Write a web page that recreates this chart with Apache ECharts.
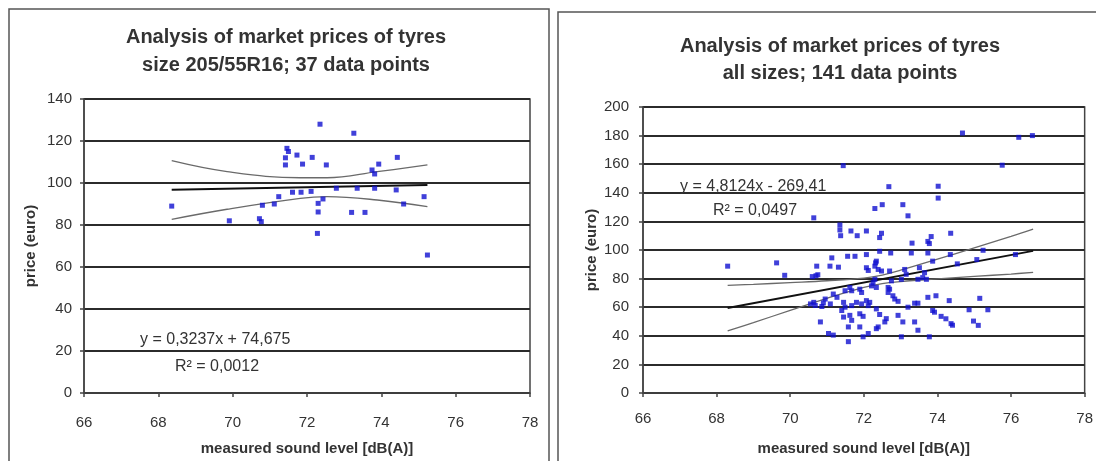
<!DOCTYPE html>
<html><head><meta charset="utf-8">
<script src="https://cdn.jsdelivr.net/npm/echarts/dist/echarts.min.js"></script>
<style>html,body{margin:0;padding:0;background:#fff}#c{width:1096px;height:461px}</style>
</head><body><div id="c"></div>
<script>
// ---------- data ----------
const titleLeft = "Analysis of market prices of tyres\nsize 205/55R16; 37 data points";
const titleRight = "Analysis of market prices of tyres\nall sizes; 141 data points";
const xName = "measured sound level [dB(A)]";
const yName = "price (euro)";
const eqLeft = ["y = 0,3237x + 74,675", "R\u00B2 = 0,0012"];
const eqRight = ["y = 4,8124x - 269,41", "R\u00B2 = 0,0497"];

// left chart: 205/55R16, 37 points [sound dB(A), price euro]
const sizePoints = [
 [68.36,89],[69.91,82],[70.77,81.6],[70.72,83],[70.8,89.4],[71.12,90],[71.24,93.5],
 [71.46,116.5],[71.5,115],[71.42,112],[71.42,108.6],[71.73,113.3],[71.88,109],[71.61,95.6],
 [71.84,95.6],[72.11,96],[72.14,112.2],[72.35,128],[72.3,90.3],[72.3,86.2],[72.28,76],
 [72.43,92.4],[72.52,108.6],[72.79,97.5],[73.26,123.7],[73.2,86],[73.35,97.5],[73.56,86],
 [73.75,106.2],[73.82,104.3],[73.93,109],[73.82,97.5],[74.43,112.2],[74.4,96.7],[74.6,90],
 [75.15,93.5],[75.24,65.7]
];
const sizeTrend = [[68.36,96.8],[75.24,99.0]];
const sizeUpper = [[68.36,110.6],[69.85,105.4],[71.82,102.5],[72.54,102.5],[73.89,105.4],[75.24,108.6]];
const sizeLower = [[68.36,82.7],[69.85,87.5],[71.82,92.7],[72.54,93.5],[73.89,91.9],[75.24,88.7]];

// right chart: all sizes, 141 points
const allPoints = [
 [74.68,181.8],[76.21,178.8],[76.58,180],[75.76,159.3],[71.44,159],[72.68,144.3],[74.02,144.6],
 [74.02,136.3],[72.5,131.7],[72.3,129],[73.06,131.7],[73.2,123.9],[70.64,122.5],
 [71.35,117.5],[71.35,114],[71.37,110],[71.65,113.3],[71.82,110],[72.07,113.3],[72.48,111.7],
 [72.43,108.7],[73.83,109.4],[73.74,106],[73.78,104.5],[74.36,111.7],[73.31,104.8],[73.29,97.9],
 [73.74,97.9],[73.87,92.2],[74.54,90.3],[72.43,99.1],[72.73,97.9],[71.56,95.6],[71.76,95.6],
 [72.07,96.8],[71.13,94.5],[71.08,88.7],[71.31,88],[72.07,87.6],[72.12,85.7],[72.3,88.7],
 [72.34,92.2],[72.39,86.4],[72.48,85.3],[72.7,85.3],[73.11,86.4],[73.15,83],[73.51,87.6],
 [73.65,84.1],[73.02,79.5],[73.47,79.5],[73.6,80.7],[73.7,79.5],[72.75,78.4],[72.66,73.8],
 [72.7,72.6],[72.25,77.2],[72.21,74.9],[72.34,73.8],[71.62,73.8],[71.49,71.5],[71.67,71.5],
 [71.89,72.6],[71.94,70.3],[72.66,70.3],[72.79,68],[72.84,65.7],[72.93,64.1],[73.2,60],
 [73.38,62.8],[73.47,62.8],[73.74,66.9],[73.96,68],[74.32,64.6],[70.95,65.7],[71.17,69.2],
 [71.27,66.9],[71.09,62.3],[71.45,63.4],[71.49,60],[71.67,61.1],[71.8,63.4],[71.94,62.3],
 [72.07,64.6],[72.12,61.1],[72.16,63.4],[70.86,60.5],[71.4,57.7],[71.45,53.1],[71.62,54.3],
 [71.67,50.8],[71.58,46.2],[71.89,55.4],[71.98,53.6],[72.34,58.8],[72.43,54.9],[72.61,52],
 [72.57,49.7],[72.93,54.3],[73.06,49.7],[73.38,49.7],[73.87,57.7],[73.92,56.5],[74.1,53.6],
 [74.23,51.9],[74.37,48.5],[74.41,47.4],[70.82,49.7],[71.04,41.6],[71.17,40.5],[71.58,35.9],
 [71.98,39.3],[72.12,41.6],[72.34,45],[72.39,46.2],[73.02,39.3],[73.47,43.9],[73.78,39.3],
 [71.89,46.2],[68.3,88.7],[69.63,91],[69.85,82.3],[70.72,88.7],[70.7,82],[70.6,81.4],
 [70.75,82.7],[70.55,62.3],[70.64,63.4],[70.68,61.2],[70.9,63],[75.24,99.8],[75.07,93.3],
 [76.12,96.8],[75.15,66.2],[74.86,58.2],[75.37,58.2],[74.98,50.3],[75.11,47.3],[74.35,96.8],
 [72.3,79.5],[72.32,91]
];
const allTrend = [[68.3,59.4],[76.6,99.4]];
const allUpper = [[68.3,75.3],[69,76.0],[70,77.2],[71,78.5],[72,80.4],[72.5,82.5],[73,85.9],[74,93.6],[75,101.5],[76,109.5],[76.6,114.6]];
const allLower = [[68.3,43.4],[69,49.2],[70,57.8],[71,66.2],[72,73.8],[72.5,76.5],[73,77.9],[74,79.8],[75,81.5],[76,83.2],[76.6,84.4]];

// ---------- chart ----------
const FONT = '"Liberation Sans", Arial, sans-serif';
const TXT = '#333';
const chart = echarts.init(document.getElementById('c'), null, {renderer: 'canvas'});

function xAxisCfg(gi, margin) {
  return {
    gridIndex: gi, type: 'value', min: 66, max: 78, interval: 2,
    name: xName, nameLocation: 'middle', nameGap: 48,
    nameTextStyle: {fontFamily: FONT, fontSize: 15, fontWeight: 'bold', color: TXT},
    axisLine: {onZero: false, lineStyle: {color: '#444', width: 1.5}},
    axisTick: {show: true, inside: false, length: 4, lineStyle: {color: '#444', width: 1.5}},
    axisLabel: {fontFamily: FONT, fontSize: 15, color: TXT, margin: margin},
    splitLine: {show: false}
  };
}
function yAxisCfg(gi, max, gap, margin) {
  return {
    gridIndex: gi, type: 'value', min: 0, max: max, interval: 20,
    name: yName, nameLocation: 'middle', nameGap: gap, nameRotate: 90,
    nameTextStyle: {fontFamily: FONT, fontSize: 15, fontWeight: 'bold', color: TXT},
    axisLine: {show: true, lineStyle: {color: '#444', width: 1.5}},
    axisTick: {show: true, inside: false, length: 4, lineStyle: {color: '#444', width: 1.5}},
    axisLabel: {fontFamily: FONT, fontSize: 15, color: TXT, margin: margin},
    splitLine: {show: true, lineStyle: {color: '#2b2b2b', width: 2}}
  };
}
function scatter(gi, data) {
  return {type: 'scatter', xAxisIndex: gi, yAxisIndex: gi, data: data,
    symbol: 'rect', symbolSize: [5, 5], itemStyle: {color: '#1010d0'}, z: 5, silent: true};
}
function line(gi, data, color, width, smooth) {
  return {type: 'line', xAxisIndex: gi, yAxisIndex: gi, data: data, symbol: 'none',
    smooth: smooth ? 0.4 : false, lineStyle: {color: color, width: width}, z: 4, silent: true};
}

chart.setOption({
  animation: false,
  backgroundColor: '#fff',
  title: [
    {text: titleLeft, left: 281, top: 18, textAlign: 'center',
     textStyle: {fontFamily: FONT, fontSize: 20, fontWeight: 'bold', color: TXT, lineHeight: 28}},
    {text: titleRight, left: 835, top: 28, textAlign: 'center',
     textStyle: {fontFamily: FONT, fontSize: 20, fontWeight: 'bold', color: TXT, lineHeight: 27}}
  ],
  grid: [
    {left: 84, right: 566, top: 99, bottom: 68, show: true, borderColor: '#444', borderWidth: 1.5, backgroundColor: '#fff'},
    {left: 643, right: 8, top: 107, bottom: 64, show: true, borderColor: '#444', borderWidth: 1.5, backgroundColor: '#fff'}
  ],
  xAxis: [xAxisCfg(0, 22), xAxisCfg(1, 18)],
  yAxis: [yAxisCfg(0, 140, 46, 12), yAxisCfg(1, 200, 44, 14)],
  series: [
    line(0, sizeUpper, '#6a6a6a', 1.3, true),
    line(0, sizeLower, '#6a6a6a', 1.3, true),
    line(0, sizeTrend, '#111', 2, false),
    scatter(0, sizePoints),
    line(1, allUpper, '#6a6a6a', 1.3, true),
    line(1, allLower, '#6a6a6a', 1.3, true),
    line(1, allTrend, '#111', 2, false),
    scatter(1, allPoints)
  ],
  graphic: [
    {type: 'rect', shape: {x: 9, y: 9, width: 540, height: 470}, style: {fill: 'none', stroke: '#555', lineWidth: 1.5}, z: -1, silent: true},
    {type: 'rect', shape: {x: 558, y: 12, width: 560, height: 470}, style: {fill: 'none', stroke: '#555', lineWidth: 1.5}, z: -1, silent: true},
    {type: 'text', x: 140, y: 340, z: 10, silent: true, style: {text: eqLeft[0], font: '16px ' + FONT, fill: TXT, verticalAlign: 'middle'}},
    {type: 'text', x: 175, y: 367, z: 10, silent: true, style: {text: eqLeft[1], font: '16px ' + FONT, fill: TXT, verticalAlign: 'middle'}},
    {type: 'text', x: 680, y: 187, z: 10, silent: true, style: {text: eqRight[0], font: '16px ' + FONT, fill: TXT, verticalAlign: 'middle'}},
    {type: 'text', x: 713, y: 211, z: 10, silent: true, style: {text: eqRight[1], font: '16px ' + FONT, fill: TXT, verticalAlign: 'middle'}}
  ]
});
</script>
</body></html>
